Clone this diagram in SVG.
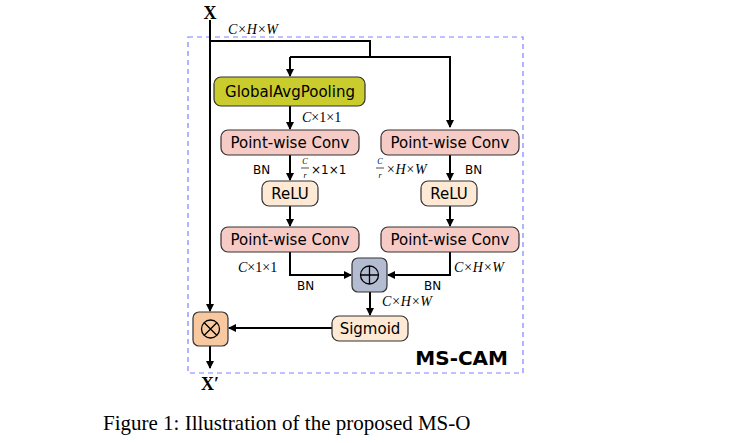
<svg xmlns="http://www.w3.org/2000/svg" width="741" height="443" viewBox="0 0 741 443">
<style>
.n{stroke:#333;stroke-width:1.2}
.t{font-family:"DejaVu Sans",sans-serif;font-size:15px;text-anchor:middle;fill:#000}
.s{font-family:"DejaVu Sans",sans-serif;font-size:12px;fill:#000}
.m{font-family:"Liberation Serif",serif;font-size:14px;font-style:italic;fill:#000}
.f{font-family:"Liberation Serif",serif;font-size:8px;font-style:italic;text-anchor:middle;fill:#000}
.c{fill:none;stroke:#000;stroke-width:2}
</style>
<defs><marker id="a" markerWidth="8" markerHeight="8" refX="7" refY="4" orient="auto" markerUnits="userSpaceOnUse"><path d="M0,0L8,4L0,8z" fill="#000"/></marker></defs>
<rect width="741" height="443" fill="#fff"/>
<rect x="188" y="37" width="335" height="336" fill="none" stroke="#8080ff" stroke-width="1.2" stroke-dasharray="5,4"/>
<g id="connectors">
<path class="c" d="M210,20V311" marker-end="url(#a)"/>
<path class="c" d="M210,41H370V57"/>
<path class="c" d="M290,57H450V127" marker-end="url(#a)"/>
<path class="c" d="M290,57V76" marker-end="url(#a)"/>
<path class="c" d="M290,106V129" marker-end="url(#a)"/>
<path class="c" d="M290,155V180" marker-end="url(#a)"/>
<path class="c" d="M450,155V180" marker-end="url(#a)"/>
<path class="c" d="M290,206V226" marker-end="url(#a)"/>
<path class="c" d="M450,206V226" marker-end="url(#a)"/>
<path class="c" d="M290,252V275H351" marker-end="url(#a)"/>
<path class="c" d="M450,252V275H388" marker-end="url(#a)"/>
<path class="c" d="M370,292V315" marker-end="url(#a)"/>
<path class="c" d="M332,328H229" marker-end="url(#a)"/>
<path class="c" d="M210,346V368" marker-end="url(#a)"/>
</g>
<text x="210" y="19" font-family="Liberation Serif,serif" font-weight="bold" font-size="18" text-anchor="middle">X</text>
<text x="228" y="34" class="m">C×H×W</text>
<g id="gap"><rect class="n" x="214" y="77" width="151" height="29" rx="7" fill="#c9cc2c"/><text class="t" x="290" y="97">GlobalAvgPooling</text></g>
<text x="302" y="122" class="m">C<tspan font-style="normal">×1×1</tspan></text>
<g id="pwc1"><rect class="n" x="221" y="130" width="138" height="25" rx="7" fill="#f6cbc6"/><text class="t" x="290" y="148">Point-wise Conv</text></g>
<g id="pwc2"><rect class="n" x="381" y="130" width="138" height="25" rx="7" fill="#f6cbc6"/><text class="t" x="450" y="148">Point-wise Conv</text></g>
<text x="253" y="174" class="s">BN</text>
<text x="305" y="164" class="f">C</text><line x1="301" y1="168" x2="309" y2="168" stroke="#000" stroke-width="0.7"/><text x="305" y="178" class="f">r</text>
<text x="311" y="174" class="s">×1×1</text>
<text x="380" y="164" class="f">C</text><line x1="376" y1="168" x2="384" y2="168" stroke="#000" stroke-width="0.7"/><text x="380" y="178" class="f">r</text>
<text x="386" y="174" class="m">×H×W</text>
<text x="465" y="174" class="s">BN</text>
<g id="relu1"><rect class="n" x="262" y="181" width="56" height="25" rx="7" fill="#fde9d4"/><text class="t" x="290" y="199">ReLU</text></g>
<g id="relu2"><rect class="n" x="421" y="181" width="56" height="25" rx="7" fill="#fde9d4"/><text class="t" x="449" y="199">ReLU</text></g>
<g id="pwc3"><rect class="n" x="221" y="227" width="138" height="25" rx="7" fill="#f6cbc6"/><text class="t" x="290" y="245">Point-wise Conv</text></g>
<g id="pwc4"><rect class="n" x="381" y="227" width="138" height="25" rx="7" fill="#f6cbc6"/><text class="t" x="450" y="245">Point-wise Conv</text></g>
<text x="238" y="272" class="m">C<tspan font-style="normal">×1×1</tspan></text>
<text x="297" y="290" class="s">BN</text>
<text x="454" y="272" class="m">C×H×W</text>
<text x="424" y="290" class="s">BN</text>
<g id="add"><rect class="n" x="352" y="258" width="35" height="34" rx="6" fill="#b4bcd2"/><circle cx="369.5" cy="275" r="9" fill="none" stroke="#000" stroke-width="1.3"/><path d="M360.5,275H378.5M369.5,266V284" stroke="#000" stroke-width="1.3"/></g>
<text x="382" y="306" class="m">C×H×W</text>
<g id="sigmoid"><rect class="n" x="332" y="316" width="76" height="25" rx="7" fill="#fde9d4"/><text class="t" x="370" y="334">Sigmoid</text></g>
<g id="mul"><rect class="n" x="193" y="312" width="35" height="34" rx="6" fill="#f8c9a0"/><circle cx="210.5" cy="329" r="9" fill="none" stroke="#000" stroke-width="1.3"/><path d="M204,322.5L217,335.5M217,322.5L204,335.5" stroke="#000" stroke-width="1.3"/></g>
<text x="508" y="365" font-family="DejaVu Sans,sans-serif" font-weight="bold" font-size="20" text-anchor="end">MS-CAM</text>
<text x="210" y="390" font-family="Liberation Serif,serif" font-weight="bold" font-size="18" text-anchor="middle">X′</text>
<text x="103" y="430" font-family="Liberation Serif,serif" font-size="21">Figure 1: Illustration of the proposed MS-O</text>
</svg>
